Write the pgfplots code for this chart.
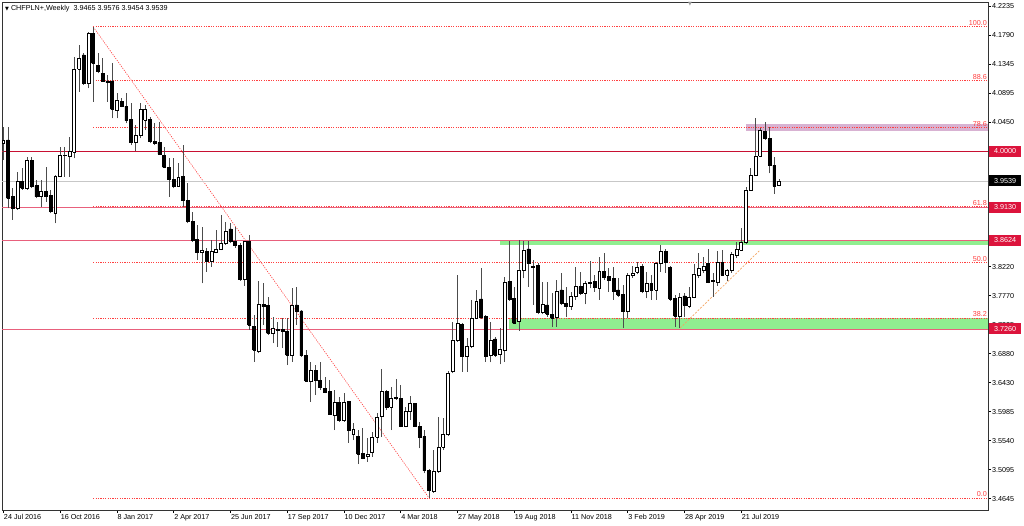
\documentclass[border=0pt]{standalone}
\usepackage{fontspec}
\setmainfont{Liberation Sans}
\newfontfamily\dejavu{DejaVu Sans}
\usepackage{pgfplots}
\pgfplotsset{compat=1.18}

\definecolor{crim}{RGB}{220,20,60}
\definecolor{redline}{RGB}{200,16,50}
\definecolor{pinkline}{RGB}{232,96,124}
\definecolor{fib}{RGB}{255,64,64}
\definecolor{zonegreen}{RGB}{144,238,144}
\definecolor{zonepink}{RGB}{216,178,210}
\definecolor{trend}{RGB}{244,164,96}

\pgfplotsset{
  wick/.style={black!70, line width=0.6pt},
  body/.style={draw=black, line width=0.6pt},
  fibl/.style={fib, line width=0.6pt, dash pattern=on 1.2pt off 1.2pt},
}
\tikzset{fiblabel/.style={text=fib, anchor=base east, inner sep=0pt,
  xshift=-1pt, yshift=1pt, font=\fontsize{7.2}{8.6}\selectfont},
  pricebox/.style={text=white, anchor=west, inner sep=0pt, minimum width=32pt,
  minimum height=11pt, xshift=1pt, font=\fontsize{7.2}{8.6}\selectfont}}

% week, open, high, low, close
\newcommand\candle[5]{%
  \ifdim#2pt>#5pt\relax
    \def\cfill{black}\def\blo{#5}\def\bhi{#2}%
  \else
    \def\cfill{white}\def\blo{#2}\def\bhi{#5}%
  \fi
  \pgfmathsetmacro\xl{#1-0.31}\pgfmathsetmacro\xr{#1+0.31}%
  \edef\candleplot{%
    \noexpand\addplot[wick] coordinates {(#1,#4)(#1,#3)};
    \noexpand\addplot[body,fill=\cfill] coordinates {(\xl,\blo)(\xr,\blo)(\xr,\bhi)(\xl,\bhi)(\xl,\blo)};}%
  \candleplot}

\begin{document}
\begin{tikzpicture}
\begin{axis}[
  at={(0,0)}, anchor=south west,
  scale only axis, width=986pt, height=508pt,
  xmin=-0.275, xmax=208.18, ymin=3.4469, ymax=4.2297,
  clip mode=individual,
  axis line style={black!80, line width=0.7pt},
  tick align=outside, major tick length=3pt,
  tick style={black, line width=0.6pt},
  xtick pos=left, ytick pos=right, yticklabel pos=right,
  xtick={0,12,...,156},
  xticklabels={24 Jul 2016, 16 Oct 2016, 8 Jan 2017, 2 Apr 2017, 25 Jun 2017,
    17 Sep 2017, 10 Dec 2017, 4 Mar 2018, 27 May 2018, 19 Aug 2018,
    11 Nov 2018, 3 Feb 2019, 28 Apr 2019, 21 Jul 2019},
  ytick={4.2235,4.1789,4.1342,4.0896,4.0449,4.0003,3.9556,3.9110,3.8663,
    3.8217,3.7770,3.7324,3.6877,3.6431,3.5984,3.5538,3.5091,3.4645},
  yticklabels={4.2235,4.1790,4.1345,4.0895,4.0450,,,,3.8665,
    3.8220,3.7770,3.7325,3.6880,3.6430,3.5985,3.5540,3.5095,3.4645},
  tick label style={font=\fontsize{7.2}{8.6}\selectfont},
  xticklabel style={anchor=north west, inner sep=0pt, xshift=0.5pt, yshift=-1pt},
  yticklabel style={anchor=west, inner sep=0pt, xshift=1pt},
]

% zones
\addplot[draw=none, fill=zonegreen] coordinates {(105,3.8624)(208.18,3.8624)(208.18,3.8545)(105,3.8545)};
\addplot[draw=none, fill=zonegreen] coordinates {(107,3.7428)(208.18,3.7428)(208.18,3.7260)(107,3.7260)};
\addplot[draw=none, fill=zonepink] coordinates {(157,4.0415)(208.18,4.0415)(208.18,4.0310)(157,4.0310)};

% fibonacci levels
\addplot[fibl] coordinates {(19,4.1915)(208.18,4.1915)};
\addplot[fibl] coordinates {(19,4.1087)(208.18,4.1087)};
\addplot[fibl] coordinates {(19,4.0361)(208.18,4.0361)};
\addplot[fibl] coordinates {(19,3.9142)(208.18,3.9142)};
\addplot[fibl] coordinates {(19,3.8285)(208.18,3.8285)};
\addplot[fibl] coordinates {(19,3.7428)(208.18,3.7428)};
\addplot[fibl] coordinates {(19,3.4655)(208.18,3.4655)};
\addplot[fibl] coordinates {(19,4.1915)(90,3.4655)};

% horizontal lines
\addplot[redline, line width=0.8pt] coordinates {(-0.275,4.0000)(208.18,4.0000)};
\addplot[black!22, line width=0.6pt] coordinates {(-0.275,3.9539)(208.18,3.9539)};
\addplot[pinkline, line width=0.7pt] coordinates {(-0.275,3.9130)(208.18,3.9130)};
\addplot[pinkline, line width=0.7pt] coordinates {(-0.275,3.8624)(208.18,3.8624)};
\addplot[pinkline, line width=0.7pt] coordinates {(-0.275,3.7260)(208.18,3.7260)};

% trend line
\addplot[trend, line width=0.7pt, dash pattern=on 2pt off 1.5pt] coordinates {(143.1,3.7273)(160,3.8475)};

% candles
\candle{0}{4.0119}{4.0376}{3.9862}{4.0160}
\candle{1}{4.0171}{4.0376}{3.9118}{3.9272}
\candle{2}{3.9297}{3.9426}{3.8938}{3.9118}
\candle{3}{3.9118}{3.9683}{3.9092}{3.9529}
\candle{4}{3.9529}{3.9734}{3.9400}{3.9426}
\candle{5}{3.9426}{3.9914}{3.9400}{3.9862}
\candle{6}{3.9862}{3.9914}{3.9426}{3.9452}
\candle{7}{3.9467}{3.9554}{3.9272}{3.9297}
\candle{8}{3.9297}{3.9554}{3.9143}{3.9374}
\candle{9}{3.9374}{3.9760}{3.9220}{3.9297}
\candle{10}{3.9313}{3.9400}{3.9041}{3.9066}
\candle{11}{3.9041}{3.9631}{3.8886}{3.9616}
\candle{12}{3.9606}{4.0068}{3.9595}{3.9940}
\candle{13}{3.9929}{4.0068}{3.9606}{3.9940}
\candle{14}{3.9914}{4.0222}{3.9606}{3.9991}
\candle{15}{3.9981}{4.1455}{3.9888}{4.1260}
\candle{16}{4.1260}{4.1635}{4.0915}{4.1429}
\candle{17}{4.1481}{4.1506}{4.1018}{4.1044}
\candle{18}{4.1044}{4.1840}{4.0967}{4.1815}
\candle{19}{4.1815}{4.1915}{4.0761}{4.1352}
\candle{20}{4.1326}{4.1506}{4.1198}{4.1224}
\candle{21}{4.1198}{4.1429}{4.1070}{4.1080}
\candle{22}{4.1080}{4.1172}{4.0761}{4.1054}
\candle{23}{4.1080}{4.1352}{4.0505}{4.0643}
\candle{24}{4.0633}{4.0890}{4.0504}{4.0787}
\candle{25}{4.0761}{4.0812}{4.0674}{4.0694}
\candle{26}{4.0694}{4.0890}{4.0427}{4.0468}
\candle{27}{4.0489}{4.0746}{4.0093}{4.0129}
\candle{28}{4.0129}{4.0402}{4.0006}{4.0247}
\candle{29}{4.0247}{4.0746}{4.0196}{4.0643}
\candle{30}{4.0479}{4.0710}{4.0324}{4.0643}
\candle{31}{4.0489}{4.0530}{4.0119}{4.0145}
\candle{32}{4.0145}{4.0427}{4.0093}{4.0119}
\candle{33}{4.0129}{4.0453}{3.9939}{3.9955}
\candle{34}{3.9939}{4.0068}{3.9734}{3.9749}
\candle{35}{3.9749}{3.9888}{3.9297}{3.9564}
\candle{36}{3.9564}{3.9888}{3.9425}{3.9461}
\candle{37}{3.9461}{3.9811}{3.9451}{3.9595}
\candle{38}{3.9605}{4.0093}{3.9133}{3.9235}
\candle{39}{3.9235}{3.9513}{3.8886}{3.8912}
\candle{40}{3.8912}{3.9066}{3.8604}{3.8629}
\candle{41}{3.8639}{3.8860}{3.8321}{3.8434}
\candle{42}{3.8434}{3.8835}{3.7961}{3.8475}
\candle{43}{3.8449}{3.8501}{3.8141}{3.8295}
\candle{44}{3.8295}{3.8629}{3.8218}{3.8449}
\candle{45}{3.8434}{3.8783}{3.8424}{3.8485}
\candle{46}{3.8485}{3.9015}{3.8475}{3.8578}
\candle{47}{3.8578}{3.8912}{3.8553}{3.8758}
\candle{48}{3.8800}{3.8887}{3.8578}{3.8614}
\candle{49}{3.8614}{3.8835}{3.8512}{3.8543}
\candle{50}{3.8543}{3.8578}{3.7998}{3.8029}
\candle{51}{3.8029}{3.8614}{3.7926}{3.8604}
\candle{52}{3.8604}{3.8707}{3.7243}{3.7320}
\candle{53}{3.7294}{3.7474}{3.6755}{3.6935}
\candle{54}{3.6919}{3.7998}{3.6883}{3.7638}
\candle{55}{3.7638}{3.7962}{3.7320}{3.7602}
\candle{56}{3.7618}{3.7757}{3.7166}{3.7191}
\candle{57}{3.7191}{3.7448}{3.7037}{3.7269}
\candle{58}{3.7238}{3.7371}{3.6986}{3.7253}
\candle{59}{3.7253}{3.7423}{3.6960}{3.7227}
\candle{60}{3.7227}{3.7423}{3.6703}{3.6858}
\candle{61}{3.6858}{3.7885}{3.6755}{3.7628}
\candle{62}{3.7628}{3.7911}{3.7320}{3.7536}
\candle{63}{3.7536}{3.7551}{3.6832}{3.6847}
\candle{64}{3.6847}{3.6935}{3.6447}{3.6457}
\candle{65}{3.6457}{3.6755}{3.6139}{3.6626}
\candle{66}{3.6626}{3.6703}{3.6241}{3.6472}
\candle{67}{3.6472}{3.6755}{3.6318}{3.6354}
\candle{68}{3.6344}{3.6524}{3.6267}{3.6282}
\candle{69}{3.6292}{3.6472}{3.5933}{3.5943}
\candle{70}{3.5933}{3.6318}{3.5701}{3.6123}
\candle{71}{3.6123}{3.6215}{3.5830}{3.5845}
\candle{72}{3.5855}{3.6266}{3.5830}{3.6123}
\candle{73}{3.6138}{3.6153}{3.5506}{3.5701}
\candle{74}{3.5635}{3.5804}{3.5547}{3.5712}
\candle{75}{3.5609}{3.5701}{3.5177}{3.5332}
\candle{76}{3.5342}{3.5727}{3.5249}{3.5265}
\candle{77}{3.5290}{3.5573}{3.5213}{3.5332}
\candle{78}{3.5352}{3.5676}{3.5290}{3.5588}
\candle{79}{3.5588}{3.5958}{3.5506}{3.5897}
\candle{80}{3.5917}{3.6636}{3.5599}{3.6302}
\candle{81}{3.6292}{3.6318}{3.6010}{3.6051}
\candle{82}{3.6051}{3.6359}{3.5701}{3.6189}
\candle{83}{3.6184}{3.6482}{3.6164}{3.6205}
\candle{84}{3.6189}{3.6395}{3.5742}{3.5753}
\candle{85}{3.5753}{3.6061}{3.5742}{3.5984}
\candle{86}{3.5984}{3.6225}{3.5855}{3.6112}
\candle{87}{3.6112}{3.6123}{3.5753}{3.5763}
\candle{88}{3.5763}{3.5830}{3.5419}{3.5588}
\candle{89}{3.5599}{3.5701}{3.5034}{3.5075}
\candle{90}{3.5075}{3.5095}{3.4655}{3.4766}
\candle{91}{3.4751}{3.5393}{3.4736}{3.5059}
\candle{92}{3.5059}{3.5897}{3.5044}{3.5434}
\candle{93}{3.5434}{3.5881}{3.5393}{3.5640}
\candle{94}{3.5640}{3.6611}{3.5609}{3.6580}
\candle{95}{3.6601}{3.7371}{3.6575}{3.7089}
\candle{96}{3.7089}{3.8090}{3.7063}{3.7346}
\candle{97}{3.7330}{3.7346}{3.6601}{3.6832}
\candle{98}{3.6832}{3.7114}{3.6601}{3.6986}
\candle{99}{3.6986}{3.7705}{3.6960}{3.7423}
\candle{100}{3.7423}{3.7859}{3.7412}{3.7690}
\candle{101}{3.7721}{3.8193}{3.7412}{3.7433}
\candle{102}{3.7448}{3.7474}{3.6755}{3.6832}
\candle{103}{3.6847}{3.7371}{3.6745}{3.7089}
\candle{104}{3.7104}{3.7140}{3.6832}{3.6858}
\candle{105}{3.6868}{3.7269}{3.6714}{3.6950}
\candle{106}{3.6935}{3.8065}{3.6755}{3.7977}
\candle{107}{3.7988}{3.8614}{3.7690}{3.7721}
\candle{108}{3.7731}{3.7911}{3.7330}{3.7346}
\candle{109}{3.7371}{3.8630}{3.7228}{3.8168}
\candle{110}{3.8168}{3.8614}{3.8039}{3.8476}
\candle{111}{3.8491}{3.8614}{3.7911}{3.8270}
\candle{112}{3.8219}{3.8322}{3.7628}{3.8203}
\candle{113}{3.8234}{3.8270}{3.7484}{3.7515}
\candle{114}{3.7515}{3.7977}{3.7484}{3.7638}
\candle{115}{3.7628}{3.7977}{3.7448}{3.7484}
\candle{116}{3.7484}{3.7808}{3.7294}{3.7423}
\candle{117}{3.7433}{3.8013}{3.7294}{3.7844}
\candle{118}{3.7859}{3.8116}{3.7628}{3.7654}
\candle{119}{3.7654}{3.7911}{3.7448}{3.7602}
\candle{120}{3.7602}{3.7834}{3.7551}{3.7757}
\candle{121}{3.7757}{3.8219}{3.7705}{3.7911}
\candle{122}{3.7911}{3.8142}{3.7782}{3.7808}
\candle{123}{3.7808}{3.7998}{3.7638}{3.7962}
\candle{124}{3.7962}{3.8306}{3.7885}{3.7977}
\candle{125}{3.7988}{3.8090}{3.7834}{3.7895}
\candle{126}{3.7885}{3.8373}{3.7705}{3.8142}
\candle{127}{3.8142}{3.8424}{3.8013}{3.8049}
\candle{128}{3.8065}{3.8193}{3.7834}{3.8013}
\candle{129}{3.8039}{3.8219}{3.7705}{3.7844}
\candle{130}{3.7859}{3.8039}{3.7757}{3.7782}
\candle{131}{3.7793}{3.7936}{3.7269}{3.7536}
\candle{132}{3.7536}{3.8116}{3.7423}{3.8090}
\candle{133}{3.8080}{3.8234}{3.8049}{3.8116}
\candle{134}{3.8132}{3.8296}{3.8101}{3.8203}
\candle{135}{3.8219}{3.8255}{3.7808}{3.7844}
\candle{136}{3.7844}{3.8142}{3.7731}{3.7962}
\candle{137}{3.7962}{3.8090}{3.7705}{3.7859}
\candle{138}{3.7859}{3.8296}{3.7705}{3.8270}
\candle{139}{3.8270}{3.8553}{3.8142}{3.8450}
\candle{140}{3.8450}{3.8486}{3.8126}{3.8280}
\candle{141}{3.8208}{3.8229}{3.7695}{3.7715}
\candle{142}{3.7731}{3.7782}{3.7294}{3.7458}
\candle{143}{3.7458}{3.7808}{3.7268}{3.7746}
\candle{144}{3.7767}{3.7808}{3.7448}{3.7628}
\candle{145}{3.7612}{3.7910}{3.7577}{3.7746}
\candle{146}{3.7746}{3.8260}{3.7731}{3.8106}
\candle{147}{3.8090}{3.8424}{3.8039}{3.8193}
\candle{148}{3.8157}{3.8373}{3.8116}{3.8229}
\candle{149}{3.8270}{3.8486}{3.7962}{3.7972}
\candle{150}{3.8013}{3.8126}{3.7756}{3.7987}
\candle{151}{3.7972}{3.8465}{3.7921}{3.8280}
\candle{152}{3.8280}{3.8475}{3.8075}{3.8090}
\candle{153}{3.8090}{3.8177}{3.8003}{3.8157}
\candle{154}{3.8157}{3.8450}{3.8126}{3.8414}
\candle{155}{3.8398}{3.8604}{3.8347}{3.8486}
\candle{156}{3.8475}{3.8809}{3.8465}{3.8589}
\candle{157}{3.8589}{3.9441}{3.8568}{3.9400}
\candle{158}{3.9400}{3.9734}{3.9390}{3.9631}
\candle{159}{3.9631}{4.0505}{3.9616}{3.9924}
\candle{160}{3.9924}{4.0350}{3.9904}{4.0314}
\candle{161}{4.0299}{4.0453}{4.0171}{4.0196}
\candle{162}{4.0196}{4.0366}{3.9657}{3.9785}
\candle{163}{3.9785}{3.9914}{3.9339}{3.9462}
\candle{164}{3.9465}{3.9576}{3.9454}{3.9539}

% fibonacci labels
\node[fiblabel] at (axis cs:208.18,4.1915) {100.0};
\node[fiblabel] at (axis cs:208.18,4.1087) {88.6};
\node[fiblabel] at (axis cs:208.18,4.0361) {78.6};
\node[fiblabel] at (axis cs:208.18,3.9142) {61.8};
\node[fiblabel] at (axis cs:208.18,3.8285) {50.0};
\node[fiblabel] at (axis cs:208.18,3.7428) {38.2};
\node[fiblabel] at (axis cs:208.18,3.4655) {0.0};

% price boxes on the scale
\node[pricebox, fill=crim] at (axis cs:208.18,4.0000) {4.0000};
\node[pricebox, fill=black] at (axis cs:208.18,3.9539) {3.9539};
\node[pricebox, fill=crim] at (axis cs:208.18,3.9130) {3.9130};
\node[pricebox, fill=crim] at (axis cs:208.18,3.8624) {3.8624};
\node[pricebox, fill=crim] at (axis cs:208.18,3.7260) {3.7260};

% header
\node[anchor=north west, inner sep=0pt, xshift=3pt, yshift=-3pt,
  font=\fontsize{7.2}{8.6}\selectfont] at (rel axis cs:0,1)
  {{\dejavu\fontsize{5}{6}\selectfont ▼}\ CHFPLN+,Weekly\ \ 3.9465 3.9576 3.9454 3.9539};
\node[anchor=north, inner sep=0pt, text=black!40, font=\dejavu\fontsize{5}{5}\selectfont]
  at (axis cs:145.2,4.2297) {▼};
\end{axis}
\pgfresetboundingbox
\path[use as bounding box] (-2pt,-16pt) rectangle (1022pt,510pt);
\end{tikzpicture}
\end{document}
